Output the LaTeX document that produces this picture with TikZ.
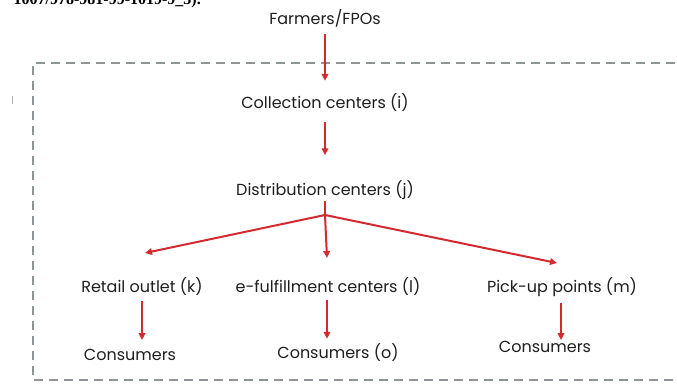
\documentclass[tikz,border=0pt]{standalone}
\usepackage{fontspec}
\setmainfont{Poppins}
\newfontfamily\doifont{Liberation Serif}
\usetikzlibrary{arrows.meta,positioning}
\definecolor{flowred}{HTML}{D42A2F}
\definecolor{boxgray}{HTML}{8E9597}
\definecolor{textdark}{HTML}{1E1E1E}

\begin{document}
\begin{tikzpicture}[x=1pt,y=-1pt,font=\fontsize{16}{18}\selectfont]
  \tikzset{stage/.style={inner sep=1pt, text=textdark},
    flow/.style={-{Triangle[length=7pt,width=6.5pt]}, draw=flowred, fill=flowred, line width=2pt}}
  \useasboundingbox (0,0) rectangle (677,383);
  \clip (0,0) rectangle (677,383);
  % cut-off caption line at the top
  \node[anchor=base east, inner sep=0pt, font=\doifont\bfseries\fontsize{16}{18}\selectfont] (doi) at (201,4) {1007/978-981-99-1019-9\_3).};
  % system boundary
  \draw[boxgray, line width=2pt, dash pattern=on 9pt off 6pt] (690,63) -- (33,63) -- (33,380) -- (690,380);
  \draw[boxgray!70, line width=1pt] (12,96) -- (12,104);
  % stages
  \node[stage] (farm) at (325,18) {Farmers/FPOs};
  \node[stage] (coll) at (325,103) {Collection centers (i)};
  \node[stage] (dist) at (325,190) {Distribution centers (j)};
  \node[stage] (retail) at (142,287) {Retail outlet (k)};
  \node[stage] (efc) at (328,287) {e-fulfillment centers (l)};
  \node[stage] (pick) at (562,287) {Pick-up points (m)};
  \node[stage] (cons1) at (130,355) {Consumers};
  \node[stage] (cons2) at (338,353) {Consumers (o)};
  \node[stage] (cons3) at (545,347) {Consumers};
  \coordinate (hub) at (325,215);
  \coordinate (tipk) at (145,253);
  \coordinate (tipl) at (327,258);
  \coordinate (tipm) at (557,263);
  % flows
  \draw[flow, shorten <=6pt, shorten >=12pt] (farm) -- (coll);
  \draw[flow, shorten <=9pt, shorten >=24pt] (coll) -- (dist);
  \draw[flowred, line width=2pt] (dist.south) -- (hub);
  \draw[flow] (hub) -- (tipk);
  \draw[flow] (hub) -- (tipl);
  \draw[flow] (hub) -- (tipm);
  \draw[flow, shorten <=4pt, shorten >=8pt] ([xshift=0pt]retail.south) -- (retail.south |- cons1.north);
  \draw[flow, shorten <=3pt, shorten >=4pt] ([xshift=-1pt]efc.south) -- ([xshift=-1pt]efc.south |- cons2.north);
  \draw[flow, shorten <=5pt, shorten >=0pt] ([xshift=-1pt]pick.south) -- ([xshift=-1pt]pick.south |- cons3.north);
\end{tikzpicture}
\end{document}
